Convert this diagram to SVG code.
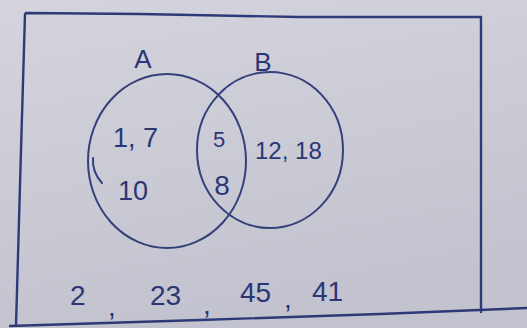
<svg xmlns="http://www.w3.org/2000/svg" width="527" height="328" viewBox="0 0 527 328">
  <defs>
    <linearGradient id="paper" x1="0" y1="0" x2="0.3" y2="1">
      <stop offset="0" stop-color="#d4d4de"/>
      <stop offset="1" stop-color="#c3c3cf"/>
    </linearGradient>
    <style>
      .ink { fill: none; stroke: #34407a; stroke-width: 2; stroke-linecap: round; stroke-linejoin: round; }
      .frame { fill: none; stroke: #2e3a78; stroke-width: 2.4; stroke-linecap: round; }
      .lbl { font-family: "Liberation Sans", "DejaVu Sans", sans-serif; fill: #2b3675; }
    </style>
  </defs>
  <rect width="527" height="328" fill="url(#paper)"/>
  <g id="universe">
    <path class="frame" d="M26,13 L140,14 L300,17 L481,17 M481,17 L481,312 M25,14 L21,150 L16,326 M10,326 L200,320 L380,314 L527,308"/>
  </g>
  <g id="setA">
    <ellipse class="ink" cx="167" cy="161" rx="79" ry="87"/>
    <path class="ink" d="M93,158 Q92,172 102,183"/>
    <text class="lbl" x="143" y="68" font-size="26" text-anchor="middle">A</text>
    <text class="lbl" x="113" y="147" font-size="27">1, 7</text>
    <text class="lbl" x="118" y="200" font-size="27">10</text>
  </g>
  <g id="setB">
    <ellipse class="ink" cx="270" cy="150" rx="73" ry="78"/>
    <text class="lbl" x="263" y="71" font-size="26" text-anchor="middle">B</text>
    <text class="lbl" x="255" y="159" font-size="24">12, 18</text>
  </g>
  <g id="intersection">
    <text class="lbl" x="219" y="147" font-size="22" text-anchor="middle">5</text>
    <text class="lbl" x="222" y="195" font-size="28" text-anchor="middle">8</text>
  </g>
  <g id="outside">
    <text class="lbl" font-size="28" y="305"><tspan x="70">2</tspan><tspan x="108" y="316">,</tspan><tspan x="150" y="305">23</tspan><tspan x="203" y="314">,</tspan><tspan x="240" y="302">45</tspan><tspan x="284" y="308">,</tspan><tspan x="312" y="301">41</tspan></text>
  </g>
  <g id="connectors"/>
</svg>
